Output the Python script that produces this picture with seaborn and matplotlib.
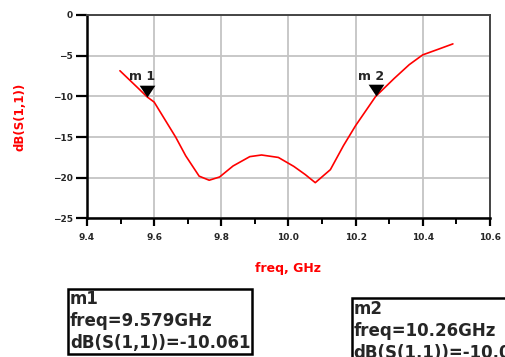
import numpy as np
import pandas as pd
import seaborn as sns
import matplotlib.pyplot as plt
from matplotlib.ticker import MultipleLocator

# S11 sweep
freq_ghz = [9.498, 9.55, 9.579, 9.6, 9.664, 9.694, 9.734, 9.764, 9.795, 9.835,
            9.885, 9.92, 9.97, 10.016, 10.05, 10.08, 10.125, 10.164, 10.2,
            10.26, 10.315, 10.36, 10.4, 10.447, 10.49]
s11_db = [-6.85, -8.9, -10.06, -10.7, -15.0, -17.3, -19.8, -20.3, -19.9, -18.55,
          -17.4, -17.2, -17.5, -18.6, -19.6, -20.6, -19.0, -16.05, -13.6,
          -10.0, -7.8, -6.1, -4.9, -4.2, -3.55]

marker_names = ["m1", "m2"]
marker_freq = [9.579, 10.26]
marker_db = [-10.061, -10.0]
marker_text = ["m1\nfreq=9.579GHz\ndB(S(1,1))=-10.061",
               "m2\nfreq=10.26GHz\ndB(S(1,1))=-10.006"]

x_ticks = [9.4, 9.6, 9.8, 10.0, 10.2, 10.4, 10.6]
y_ticks = [0, -5, -10, -15, -20, -25]

df = pd.DataFrame({"freq": freq_ghz, "db": s11_db})
mk = pd.DataFrame({"freq": marker_freq, "db": marker_db})

sns.set_style("ticks")
plt.rcParams["font.family"] = ["DejaVu Sans"]

fig = plt.figure(figsize=(5.06, 3.57), dpi=100)
ax = fig.add_axes([0.172, 0.388, 0.796, 0.570])

sns.lineplot(data=df, x="freq", y="db", ax=ax, color="#ff0000", lw=1.2, zorder=3)

ax.set_xlim(9.4, 10.6)
ax.set_ylim(-25, 0)
ax.set_xticks(x_ticks)
ax.set_xticklabels([f"{t:.1f}" for t in x_ticks])
ax.xaxis.set_minor_locator(MultipleLocator(0.1))
ax.set_yticks(y_ticks)
ax.grid(True, color="#c4c4c4", lw=1.3)

for side in ["left", "bottom"]:
    ax.spines[side].set_color("black")
    ax.spines[side].set_linewidth(1.8)
for side in ["top", "right"]:
    ax.spines[side].set_visible(True)
    ax.spines[side].set_color("#444444")
    ax.spines[side].set_linewidth(1.4)

ax.tick_params(axis="x", which="major", direction="out", length=5.5, width=1.6,
               color="black", labelsize=6.5, pad=5, bottom=True, top=False)
ax.tick_params(axis="x", which="minor", direction="out", length=4, width=1.4,
               color="black", bottom=True, top=False)
ax.tick_params(axis="y", which="major", direction="out", length=8, width=1.6,
               color="black", labelsize=6.5, pad=2, left=True, right=False)
ax.tick_params(axis="y", which="minor", left=False, right=False)
for lab in ax.get_xticklabels() + ax.get_yticklabels():
    lab.set_fontweight("bold")

ax.set_xlabel("freq, GHz", color="#ff0000", fontsize=9, fontweight="bold")
ax.set_ylabel("dB(S(1,1))", color="#ff0000", fontsize=8.5, fontweight="bold")
ax.xaxis.set_label_coords(0.5, -0.215)
ax.yaxis.set_label_coords(-0.150, 0.5)

# marker triangles with the tip on the trace
tri = [(0, 0), (-1, 1.5), (1, 1.5), (0, 0)]
sns.scatterplot(data=mk, x="freq", y="db", ax=ax, marker=tri, s=289,
                color="black", linewidth=0, zorder=5, legend=False)
for name, fx, fy in zip(marker_names, marker_freq, marker_db):
    ax.annotate(name[0] + " " + name[1:], (fx, fy), xytext=(-13, 10),
                textcoords="offset points", fontsize=9, fontweight="bold",
                ha="left", va="bottom", zorder=6)
ax.set_xlabel("freq, GHz", color="#ff0000", fontsize=9, fontweight="bold")
ax.set_ylabel("dB(S(1,1))", color="#ff0000", fontsize=8.5, fontweight="bold")

# readout boxes (the m2 readout runs off the right edge, as in the original)
fig.text(0.138, 0.187, marker_text[0], fontsize=12, fontweight="bold",
         linespacing=1.28, va="top", ha="left",
         bbox=dict(boxstyle="square,pad=0.1", fc="white", ec="black", lw=1.8))
fig.text(0.698, 0.160, marker_text[1], fontsize=12, fontweight="bold",
         linespacing=1.28, va="top", ha="left",
         bbox=dict(boxstyle="square,pad=0.1", fc="white", ec="black", lw=1.8))

fig.savefig("out.png", dpi=100)
